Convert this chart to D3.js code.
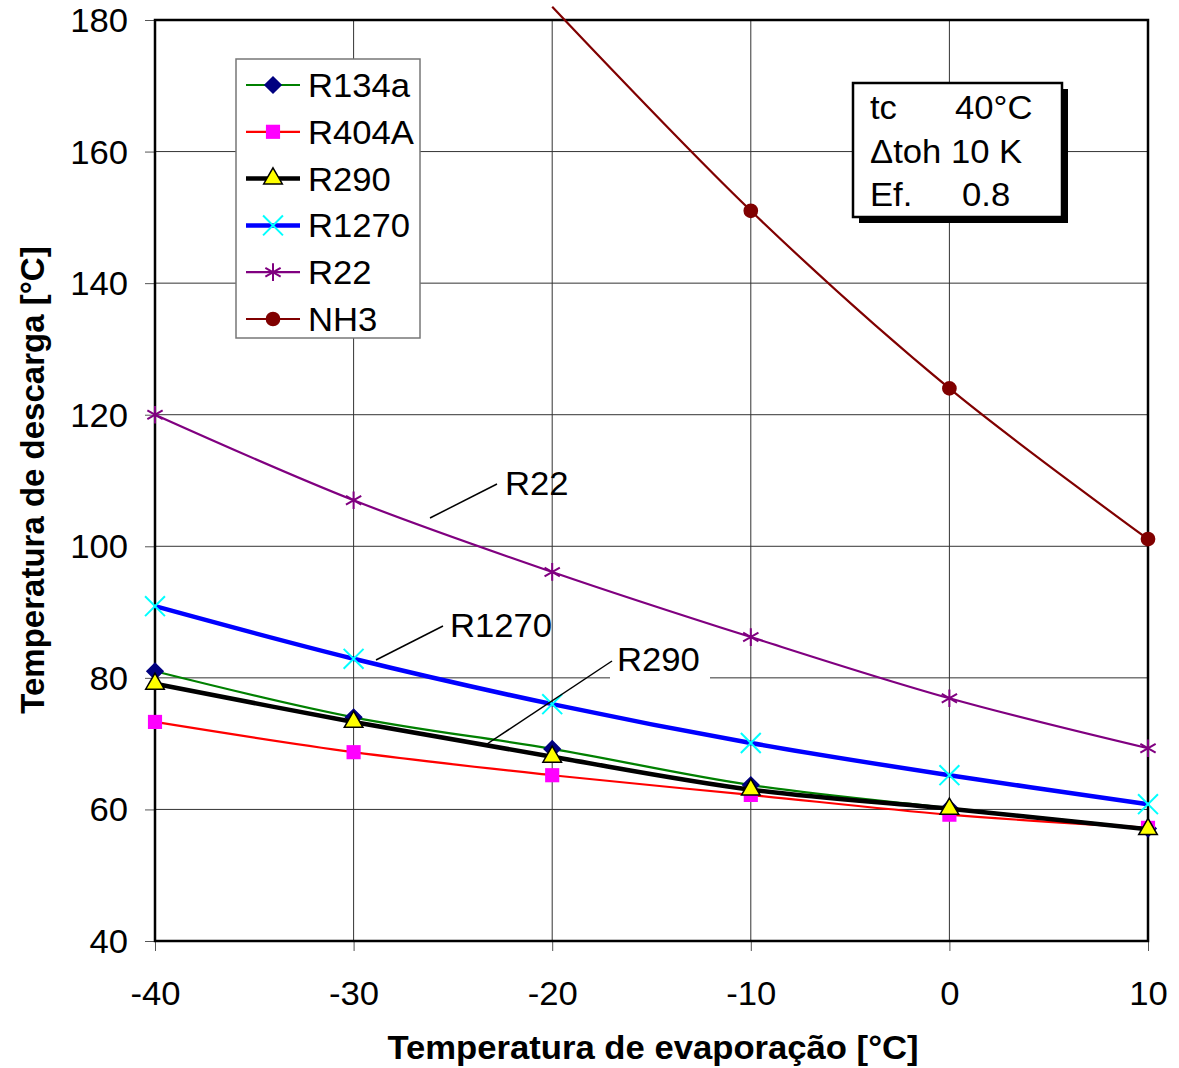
<!DOCTYPE html>
<html>
<head>
<meta charset="utf-8">
<script src="https://cdn.jsdelivr.net/npm/d3@7"></script>
<style>
  body { margin: 0; background: #fff; }
  text { font-family: "Liberation Sans", Arial, sans-serif; fill: #000; }
</style>
</head>
<body>
<svg id="chart"></svg>
<script>
// Data
let temps = [-40, -30, -20, -10, 0, 10];
let r134a = [81, 74, 69.2, 63.7, 60.2, 57.1];
let r404a = [73.3, 68.7, 65.2, 62.2, 59.2, 57.2];
let r290 = [79.1, 73.3, 68, 63, 60.1, 57];
let r1270 = [90.9, 82.9, 76, 70.1, 65.2, 60.8];
let r22 = [120, 107, 96.1, 86.2, 76.9, 69.3];
let nh3Temps = [-20, -10, 0, 10];
let nh3 = [182, 151, 124, 101.1];
let xTicks = [-40, -30, -20, -10, 0, 10];
let yTicks = [40, 60, 80, 100, 120, 140, 160, 180];

let width = 1179;
let height = 1068;
let fontSize = 33;
let stretch = 1.05;

let svg = d3.select("#chart").attr("width", width).attr("height", height);

let xScale = d3.scaleLinear().domain([-40, 10]).range([155, 1148]);
let yScale = d3.scaleLinear().domain([40, 180]).range([941, 20]);

// square turned 45 degrees, like the Excel diamond
let diamond = {
  draw(context, size) {
    let r = Math.sqrt(size) / Math.SQRT2;
    context.moveTo(0, -r); context.lineTo(r, 0); context.lineTo(0, r); context.lineTo(-r, 0); context.closePath();
  }
};

let series = [
  { name: "R134a", x: temps, y: r134a, line: "#008000", lw: 2.2, sym: diamond, size: 130, fill: "#000080", stroke: "#000080" },
  { name: "R404A", x: temps, y: r404a, line: "#ff0000", lw: 2.2, sym: d3.symbolSquare, size: 200, fill: "#ff00ff", stroke: "none" },
  { name: "R290", x: temps, y: r290, line: "#000000", lw: 4.5, sym: d3.symbolTriangle, size: 150, fill: "#ffff00", stroke: "#000" },
  { name: "R1270", x: temps, y: r1270, line: "#0000ff", lw: 4.5, sym: d3.symbolTimes, size: 260, fill: "none", stroke: "#00ffff" },
  { name: "R22", x: temps, y: r22, line: "#800080", lw: 2.2, sym: d3.symbolAsterisk, size: 220, fill: "none", stroke: "#800080" },
  { name: "NH3", x: nh3Temps, y: nh3, line: "#800000", lw: 2.2, sym: d3.symbolCircle, size: 170, fill: "#800000", stroke: "none" }
];

// text helper, Excel text is a bit wider than Liberation Sans
let label = (g, x, y, str, anchor, bold) => g.append("text")
  .attr("transform", "translate(" + x + "," + y + ") scale(" + stretch + ",1)")
  .attr("text-anchor", anchor || "start")
  .style("font-size", fontSize + "px")
  .style("font-weight", bold ? "bold" : "normal")
  .text(str);

// gridlines
let grid = svg.append("g");
grid.selectAll(".gx").data(xTicks).join("line")
  .attr("x1", d => xScale(d)).attr("x2", d => xScale(d))
  .attr("y1", yScale(40)).attr("y2", yScale(180))
  .attr("stroke", "#333").attr("stroke-width", 1);
grid.selectAll(".gy").data(yTicks).join("line")
  .attr("x1", xScale(-40)).attr("x2", xScale(10))
  .attr("y1", d => yScale(d)).attr("y2", d => yScale(d))
  .attr("stroke", "#333").attr("stroke-width", 1);

// axes
let xAxis = d3.axisBottom(xScale).tickValues(xTicks).tickSize(10).tickFormat(d => String(d));
let yAxis = d3.axisLeft(yScale).tickValues(yTicks).tickSize(10).tickFormat(d => String(d));

let gx = svg.append("g").attr("transform", "translate(0," + yScale(40) + ")").call(xAxis);
let gy = svg.append("g").attr("transform", "translate(" + xScale(-40) + ",0)").call(yAxis);
[gx, gy].forEach(g => {
  g.select(".domain").remove();
  g.selectAll(".tick line").attr("stroke", "#555");
  g.selectAll(".tick text").style("font-size", fontSize + "px")
    .style("font-family", "Liberation Sans, Arial, sans-serif");
});
gx.selectAll(".tick text").attr("y", 0).attr("dy", 0)
  .attr("transform", "translate(0,64) scale(" + stretch + ",1)");
gy.selectAll(".tick text").attr("x", 0).attr("dy", "0.35em")
  .attr("transform", "translate(-27,0) scale(" + stretch + ",1)");

// R290 label background covers gridline
svg.append("rect").attr("x", 610).attr("y", 642).attr("width", 100).attr("height", 44).attr("fill", "#fff");

// plot frame
svg.append("rect")
  .attr("x", xScale(-40)).attr("y", yScale(180))
  .attr("width", xScale(10) - xScale(-40)).attr("height", yScale(40) - yScale(180))
  .attr("fill", "none").attr("stroke", "#000").attr("stroke-width", 2.5);

// series
let lineGen = d3.line().curve(d3.curveCatmullRom.alpha(0.5));
series.forEach(s => {
  let pts = s.x.map((t, i) => [xScale(t), yScale(s.y[i])]);
  svg.append("path").attr("d", lineGen(pts))
    .attr("fill", "none").attr("stroke", s.line).attr("stroke-width", s.lw);
  let visible = pts.filter((p, i) => s.y[i] <= 180);
  svg.selectAll(null).data(visible).join("path")
    .attr("transform", p => "translate(" + p[0] + "," + p[1] + ")")
    .attr("d", d3.symbol().type(s.sym).size(s.size))
    .attr("fill", s.fill).attr("stroke", s.stroke)
    .attr("stroke-width", s.fill === "none" ? 2 : 1.5);
});

// annotations
let notes = [
  { text: "R22", tx: 505, ty: 495, x1: 430, y1: 518, x2: 497, y2: 484 },
  { text: "R1270", tx: 450, ty: 637, x1: 376, y1: 660, x2: 443, y2: 626 },
  { text: "R290", tx: 617, ty: 671, x1: 487, y1: 744, x2: 612, y2: 661 }
];
notes.forEach(n => {
  svg.append("line").attr("x1", n.x1).attr("y1", n.y1).attr("x2", n.x2).attr("y2", n.y2)
    .attr("stroke", "#000").attr("stroke-width", 1.5);
  label(svg, n.tx, n.ty, n.text);
});

// legend
let legend = svg.append("g");
legend.append("rect").attr("x", 236).attr("y", 59).attr("width", 184).attr("height", 279)
  .attr("fill", "#fff").attr("stroke", "#777").attr("stroke-width", 1.5);
series.forEach((s, i) => {
  let cy = 85 + i * 46.8;
  legend.append("line").attr("x1", 246).attr("x2", 300).attr("y1", cy).attr("y2", cy)
    .attr("stroke", s.line).attr("stroke-width", s.lw);
  legend.append("path").attr("transform", "translate(273," + cy + ")")
    .attr("d", d3.symbol().type(s.sym).size(s.size))
    .attr("fill", s.fill).attr("stroke", s.stroke)
    .attr("stroke-width", s.fill === "none" ? 2 : 1.5);
  label(legend, 308, cy + 12, s.name);
});

// info box
let info = svg.append("g");
info.append("rect").attr("x", 859).attr("y", 89).attr("width", 209).attr("height", 134).attr("fill", "#000");
info.append("rect").attr("x", 853).attr("y", 83).attr("width", 209).attr("height", 134)
  .attr("fill", "#fff").attr("stroke", "#000").attr("stroke-width", 2.5);
let infoRows = [["tc", 870, "40°C", 955, 119], ["\u0394toh 10 K", 870, "", 0, 163], ["Ef.", 870, "0.8", 962, 206]];
infoRows.forEach(r => {
  label(info, r[1], r[4], r[0]);
  if (r[2]) label(info, r[3], r[4], r[2]);
});

// axis titles
label(svg, 653, 1059, "Temperatura de evaporação [°C]", "middle", true);
svg.append("text").attr("transform", "translate(44,480) rotate(-90)").attr("text-anchor", "middle")
  .style("font-size", fontSize + "px").style("font-weight", "bold").text("Temperatura de descarga [°C]");
</script>
</body>
</html>
